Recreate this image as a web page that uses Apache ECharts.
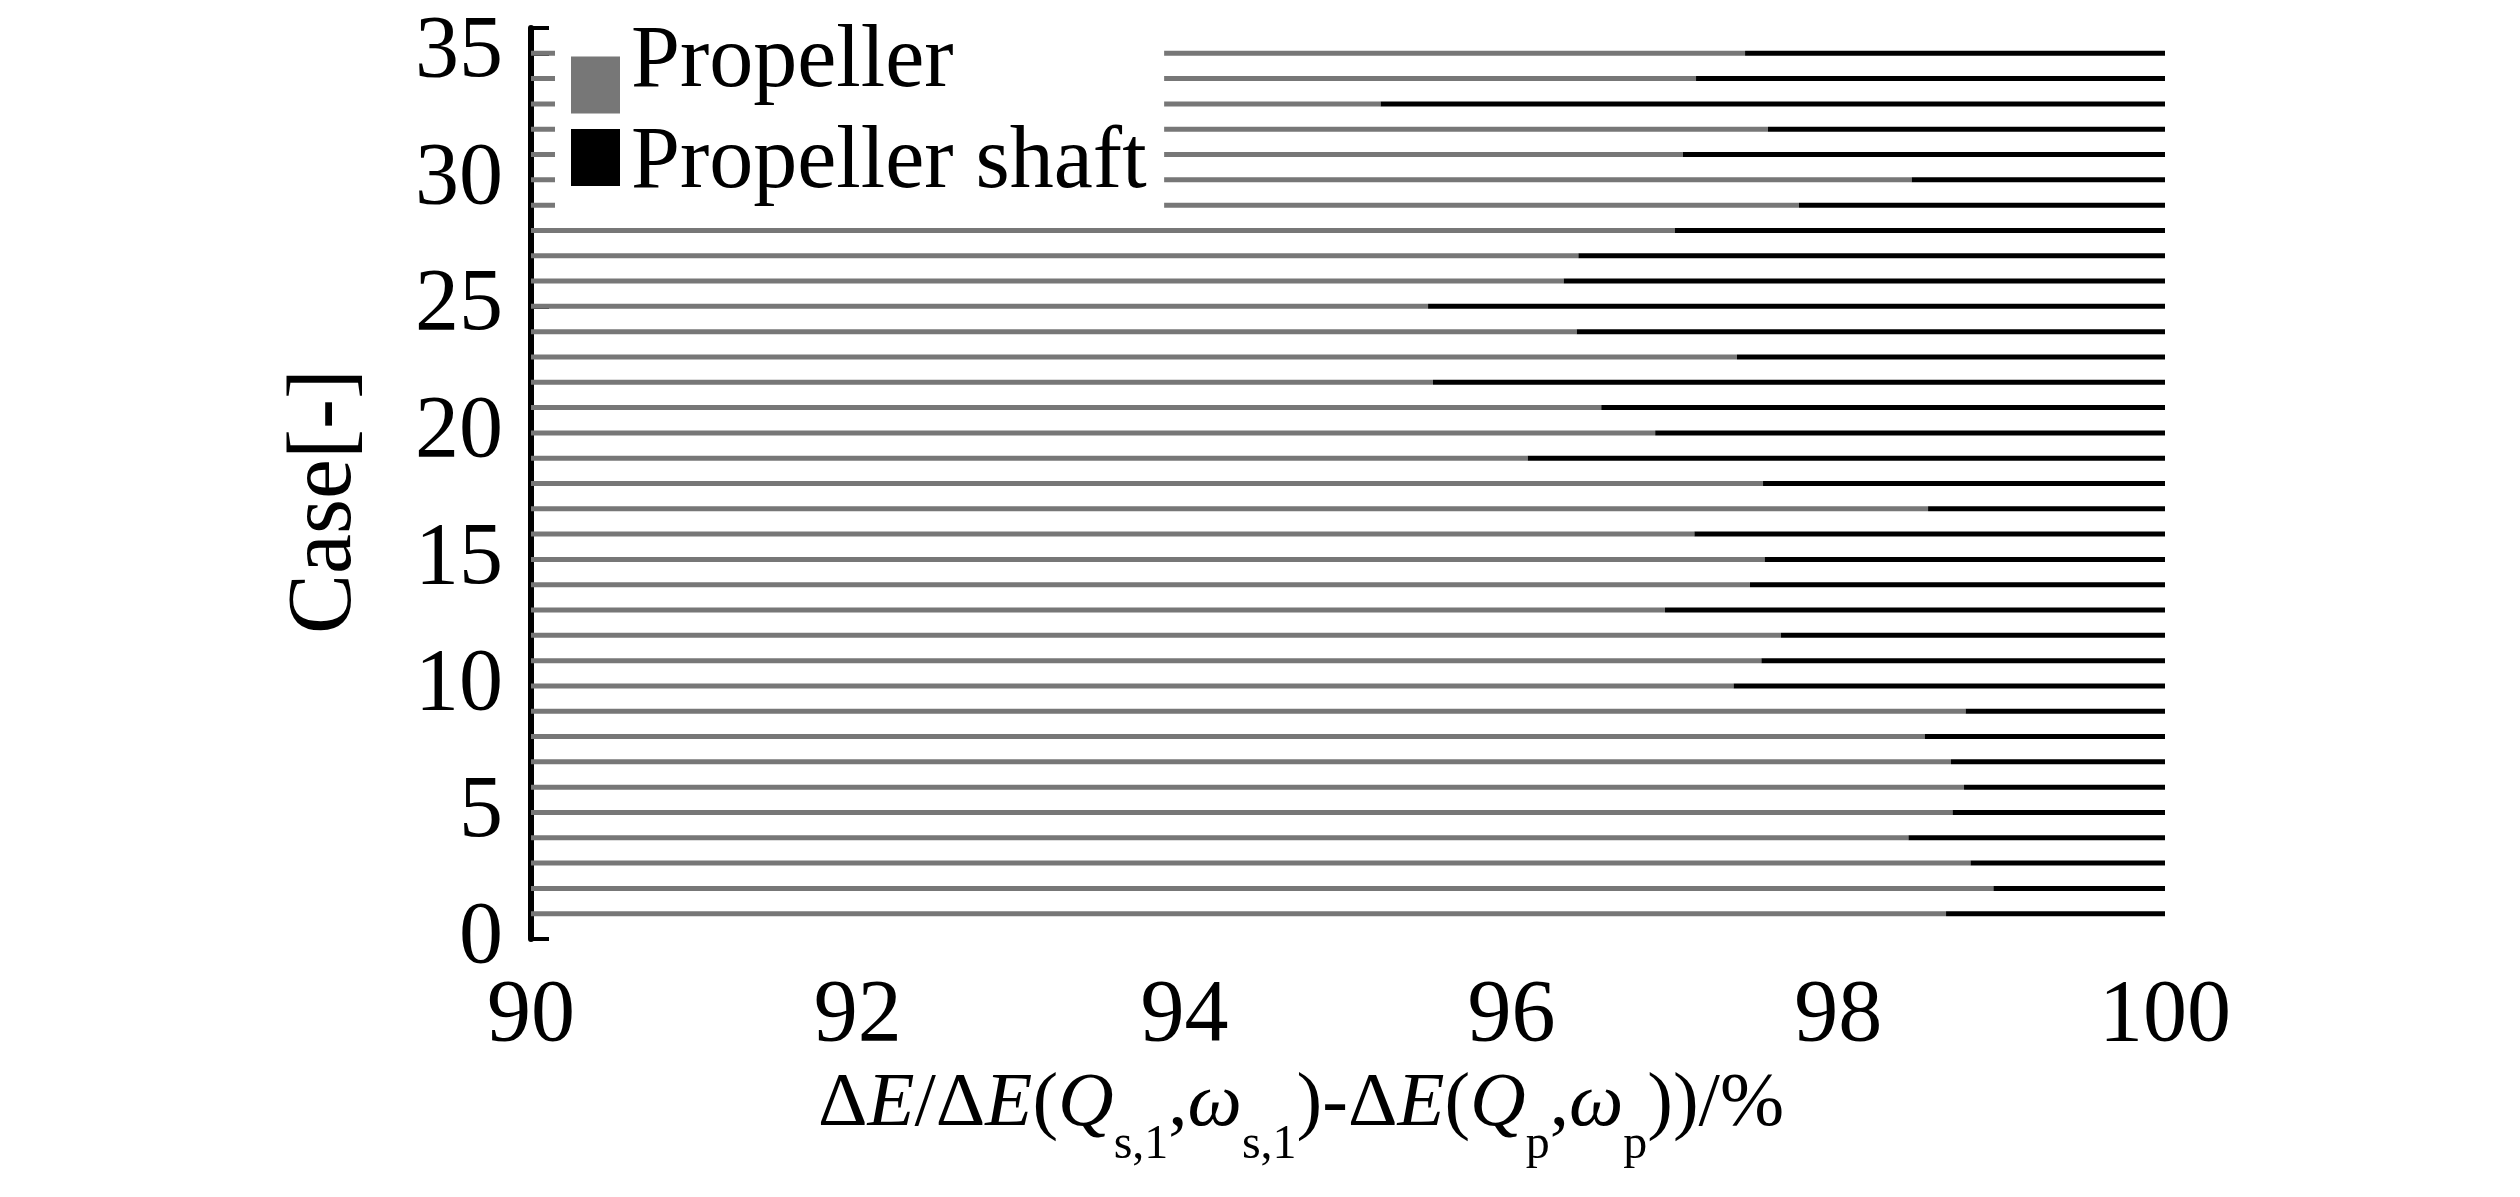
<!DOCTYPE html>
<html>
<head>
<meta charset="utf-8">
<script src="https://cdn.jsdelivr.net/npm/echarts@6/dist/echarts.min.js"></script>
<style>
  html, body { margin: 0; padding: 0; background: #fff; }
  #chart { width: 2520px; height: 1197px; }
</style>
</head>
<body>
<div id="chart"></div>
<script>
  // 工况编号 1..35
  const caseNumbers = Array.from({ length: 35 }, (_, i) => i + 1)

  // 螺旋桨所占比例 (%)
  const propellerShare = [
    98.66, 98.95, 98.81, 98.43, 98.70, 98.77, 98.69, 98.53, 98.78, 97.36,
    97.53, 97.65, 96.94, 97.46, 97.55, 97.12, 98.55, 97.54, 96.10, 96.88,
    96.55, 95.52, 97.38, 96.40, 95.49, 96.32, 96.41, 97.00, 97.76, 98.45,
    97.05, 97.57, 95.20, 97.13, 97.43,
  ]

  // 螺旋桨轴所占比例 (%)
  const shaftShare = [
    1.34, 1.05, 1.19, 1.57, 1.30, 1.23, 1.31, 1.47, 1.22, 2.64,
    2.47, 2.35, 3.06, 2.54, 2.45, 2.88, 1.45, 2.46, 3.90, 3.12,
    3.45, 4.48, 2.62, 3.60, 4.51, 3.68, 3.59, 3.00, 2.24, 1.55,
    2.95, 2.43, 4.80, 2.87, 2.57,
  ]

  // y 轴类目 0..36，刻度标签
  const yCategories = Array.from({ length: 37 }, (_, i) => String(i))
  const yTickLabels = ['0', '5', '10', '15', '20', '25', '30', '35']

  const seriesNames = ['Propeller', 'Propeller shaft']
  const FONT = "'Liberation Serif', 'Times New Roman', serif"

  const toSeries = (values) =>
    yCategories.map((c) => {
      const k = caseNumbers.indexOf(Number(c))
      return k < 0 ? null : values[k]
    })

  const chart = echarts.init(document.getElementById('chart'))

  const option = {
    animation: false,
    backgroundColor: '#fff',
    textStyle: { fontFamily: FONT, color: '#000' },
    grid: { left: 531, right: 355, top: 28, bottom: 258 },
    legend: {
      orient: 'vertical',
      left: 555,
      top: 17,
      padding: [2, 15, 6, 16],
      backgroundColor: '#fff',
      itemWidth: 49,
      itemHeight: 57,
      itemGap: 6,
      icon: 'rect',
      // 第一行文字比色块高，第二行略低：用占位符调整
      formatter: (name) =>
        name === seriesNames[0] ? `{t|${name}}{sp| }` : `{b|${name}}{sp2| }`,
      textStyle: {
        fontFamily: FONT,
        color: '#000',
        rich: {
          t: { fontFamily: FONT, fontSize: 88, lineHeight: 88, verticalAlign: 'top', padding: [0, 0, 0, 6] },
          sp: { fontSize: 10, lineHeight: 132 },
          b: { fontFamily: FONT, fontSize: 88, lineHeight: 88, verticalAlign: 'bottom', padding: [0, 0, 0, 6] },
          sp2: { fontSize: 10, lineHeight: 100 },
        },
      },
      data: seriesNames,
    },
    xAxis: {
      type: 'value',
      min: 90,
      max: 100,
      interval: 2,
      startValue: 90,
      splitLine: { show: false },
      axisLine: { lineStyle: { color: '#000', width: 6 } },
      axisTick: { inside: true, length: 14, lineStyle: { color: '#000', width: 4 } },
      axisLabel: { fontFamily: FONT, fontSize: 88, color: '#000', margin: 34 },
      name:
        '{n|Δ}{i|E}{n|/Δ}{i|E}{n|(}{i|Q}{s|s,1}{n|,}{i|ω}{s|s,1}{n|)-Δ}{i|E}{n|(}{i|Q}{s|p}{n|,}{i|ω}{s|p}{n|))/%}',
      nameLocation: 'middle',
      nameGap: 102,
      nameTextStyle: {
        padding: [0, 94, 0, 0],
        rich: {
          n: { fontFamily: FONT, fontSize: 77, lineHeight: 128, color: '#000' },
          i: { fontFamily: FONT, fontSize: 77, lineHeight: 128, fontStyle: 'italic', color: '#000' },
          s: { fontFamily: FONT, fontSize: 48, lineHeight: 48, verticalAlign: 'bottom', color: '#000' },
        },
      },
    },
    yAxis: {
      type: 'category',
      data: yCategories,
      boundaryGap: false,
      axisLine: { lineStyle: { color: '#000', width: 6 } },
      axisTick: {
        inside: true,
        length: 18,
        lineStyle: { color: '#000', width: 4 },
        interval: (idx, val) => yTickLabels.includes(val) || idx === yCategories.length - 1,
      },
      axisLabel: {
        fontFamily: FONT,
        fontSize: 88,
        color: '#000',
        margin: 28,
        interval: (idx, val) => yTickLabels.includes(val),
      },
      name: 'Case[-]',
      nameLocation: 'middle',
      nameGap: 160,
      nameTextStyle: { fontFamily: FONT, fontSize: 90, color: '#000', padding: [0, 36, 0, 0] },
    },
    series: [
      {
        name: seriesNames[0],
        type: 'bar',
        stack: 'total',
        barWidth: 5,
        itemStyle: { color: '#777' },
        data: toSeries(propellerShare),
      },
      {
        name: seriesNames[1],
        type: 'bar',
        stack: 'total',
        barWidth: 5,
        itemStyle: { color: '#000' },
        data: toSeries(shaftShare),
      },
    ],
  }

  chart.setOption(option)
</script>
</body>
</html>
